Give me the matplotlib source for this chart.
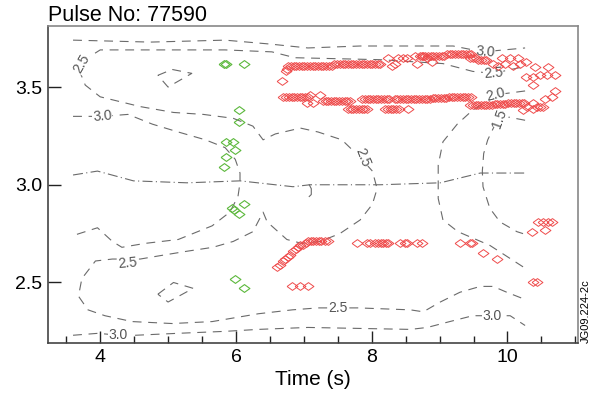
import matplotlib.pyplot as plt
import numpy as np
from matplotlib.path import Path

plt.rcParams['font.family'] = ['Liberation Sans', 'DejaVu Sans']

title = "Pulse No: 77590"
x_label = "Time (s)"
tag = "JG09.224-2c"
time_ticks = [4, 6, 8, 10]
r_ticks = [2.5, 3.0, 3.5]

# contour lines, (time, r) pairs
c30_top = [(3.60, 3.74), (4.74, 3.73), (5.84, 3.74), (6.50, 3.72), (7.06, 3.70),
           (7.83, 3.71), (8.57, 3.71), (9.20, 3.71), (9.64, 3.68), (10.26, 3.70)]
c25_main = [(10.19, 3.60), (9.79, 3.57), (9.49, 3.58), (9.05, 3.62), (8.12, 3.64),
            (6.87, 3.65), (6.53, 3.68), (5.84, 3.69), (4.74, 3.69), (4.00, 3.69),
            (3.82, 3.65), (3.73, 3.62), (3.71, 3.57), (3.78, 3.51), (4.00, 3.45),
            (4.59, 3.40), (5.08, 3.37), (5.52, 3.36), (5.96, 3.34), (6.25, 3.30),
            (6.40, 3.23), (6.58, 3.26), (6.95, 3.29), (7.21, 3.27), (7.56, 3.23),
            (7.83, 3.14), (8.01, 3.07), (8.08, 2.98), (8.01, 2.90), (7.83, 2.82),
            (7.53, 2.75), (7.24, 2.71), (6.97, 2.70), (6.75, 2.72), (6.46, 2.81),
            (6.40, 2.86), (6.25, 2.76), (5.96, 2.71), (5.66, 2.68), (5.28, 2.66),
            (4.93, 2.64), (4.59, 2.62), (4.18, 2.62), (3.93, 2.61), (3.73, 2.52),
            (3.68, 2.43), (3.82, 2.36), (4.07, 2.33), (4.47, 2.30), (5.06, 2.29),
            (5.65, 2.30), (6.33, 2.34), (6.83, 2.36), (7.21, 2.37), (7.80, 2.37),
            (8.57, 2.36), (8.76, 2.35), (9.01, 2.40), (9.30, 2.45), (9.60, 2.48),
            (9.79, 2.48), (9.99, 2.45), (10.21, 2.42)]
c30_left = [(3.60, 3.35), (4.03, 3.35), (4.41, 3.36), (4.77, 3.31), (5.15, 3.27),
            (5.55, 3.23), (5.84, 3.19), (5.99, 3.13), (6.06, 3.06), (6.06, 3.01),
            (6.03, 2.94), (5.91, 2.86), (5.65, 2.79), (5.15, 2.72), (4.66, 2.70),
            (4.32, 2.68), (4.18, 2.71), (3.96, 2.78), (3.60, 2.74)]
c20 = [(10.26, 3.48), (9.82, 3.46), (9.45, 3.37), (9.26, 3.31), (9.05, 3.22),
       (8.98, 3.10), (8.98, 2.93), (9.05, 2.82), (9.27, 2.76), (9.74, 2.69),
       (10.23, 2.58)]
c15 = [(10.26, 3.33), (9.96, 3.35), (9.82, 3.31), (9.71, 3.23), (9.65, 3.16),
       (9.63, 3.07), (9.64, 2.99), (9.74, 2.88), (9.89, 2.81), (10.14, 2.76),
       (10.23, 2.75)]
c30_bot = [(3.60, 2.23), (3.97, 2.24), (4.27, 2.23), (4.52, 2.23), (5.15, 2.24),
           (5.84, 2.25), (6.33, 2.26), (7.06, 2.27), (8.57, 2.26), (8.82, 2.27),
           (9.15, 2.30), (9.49, 2.33), (9.77, 2.33), (10.04, 2.33), (10.26, 2.28)]
loop_up = [(4.85, 3.56), (5.06, 3.59), (5.35, 3.57), (5.00, 3.50), (4.85, 3.56)]
loop_low = [(4.85, 2.44), (5.08, 2.50), (5.37, 2.47), (5.00, 2.40), (4.85, 2.44)]
mid_line = [(3.60, 3.05), (3.96, 3.07), (4.49, 3.02), (5.28, 3.01), (6.06, 3.02),
            (6.84, 2.99), (7.09, 3.00), (8.12, 3.00), (9.01, 3.01), (9.60, 3.06),
            (10.26, 3.06)]
mid_hook = [(7.08, 3.00), (7.11, 2.98), (7.11, 2.95), (7.08, 2.94)]

# contour labels: text, time, r, angle
contour_labels = [("2.5", 3.73, 3.62, 60), ("3.0", 4.03, 3.35, 5),
                  ("2.5", 7.86, 3.14, -68), ("3.0", 9.67, 3.68, -5),
                  ("2.5", 9.79, 3.57, 5), ("2.0", 9.82, 3.46, 15),
                  ("1.5", 9.89, 3.34, 70), ("2.5", 4.41, 2.60, 5),
                  ("2.5", 7.51, 2.37, 0), ("3.0", 4.27, 2.23, 0),
                  ("3.0", 9.77, 2.33, 0)]

green_pts = [(5.83, 3.62), (5.86, 3.62), (6.12, 3.62), (6.05, 3.38), (6.05, 3.32),
             (5.86, 3.22), (5.96, 3.22), (5.99, 3.18), (5.86, 3.14), (5.83, 3.09),
             (5.94, 2.88), (5.97, 2.87), (6.12, 2.90), (6.05, 2.85), (5.99, 2.52),
             (6.12, 2.47)]

red_upper = [
    (6.68, 3.53), (6.74, 3.58), (6.75, 3.59),
    (6.77, 3.61), (6.81, 3.61), (6.85, 3.61), (6.89, 3.61), (6.93, 3.61),
    (6.97, 3.61), (7.01, 3.61), (7.05, 3.61), (7.09, 3.61), (7.13, 3.61),
    (7.17, 3.61), (7.21, 3.61), (7.25, 3.61), (7.29, 3.61), (7.33, 3.61),
    (7.37, 3.61), (7.41, 3.61), (7.45, 3.62), (7.49, 3.62), (7.53, 3.62),
    (7.57, 3.62), (7.61, 3.62), (7.65, 3.62), (7.69, 3.62), (7.73, 3.62),
    (7.77, 3.62), (7.81, 3.62), (7.85, 3.62), (7.89, 3.62), (7.93, 3.62),
    (7.97, 3.62), (8.01, 3.62), (8.05, 3.62), (8.09, 3.62),
    (8.12, 3.62), (8.24, 3.65), (8.30, 3.61), (8.34, 3.62), (8.39, 3.65),
    (8.46, 3.65), (8.52, 3.65), (8.64, 3.66), (8.67, 3.62), (8.74, 3.66),
    (8.82, 3.65), (8.89, 3.63),
    (8.71, 3.66), (8.75, 3.66), (8.79, 3.66), (8.83, 3.66), (8.87, 3.66),
    (8.91, 3.66), (8.95, 3.66), (8.99, 3.66), (9.03, 3.66), (9.07, 3.66),
    (9.11, 3.67), (9.15, 3.67), (9.19, 3.67), (9.23, 3.67), (9.27, 3.67),
    (9.31, 3.67), (9.35, 3.67), (9.39, 3.67), (9.43, 3.67), (9.47, 3.67),
    (9.45, 3.65), (9.49, 3.65), (9.53, 3.65), (9.57, 3.64), (9.61, 3.64),
    (9.65, 3.64), (9.69, 3.64),
    (9.79, 3.62), (9.86, 3.61), (9.92, 3.65), (9.96, 3.62), (10.04, 3.65),
    (10.08, 3.61), (10.16, 3.65), (10.19, 3.62), (10.27, 3.63),
    (10.41, 3.60), (10.60, 3.60), (10.28, 3.55), (10.38, 3.55), (10.48, 3.56),
    (10.58, 3.56), (10.70, 3.56), (10.38, 3.51)]

red_lower = [
    (6.70, 3.45), (6.74, 3.45), (6.78, 3.45), (6.82, 3.45), (6.86, 3.45),
    (6.90, 3.45), (6.94, 3.45), (6.98, 3.45), (7.02, 3.45), (7.06, 3.45),
    (7.09, 3.46), (7.24, 3.46), (7.05, 3.42), (7.14, 3.42),
    (7.28, 3.43), (7.32, 3.43), (7.36, 3.43), (7.40, 3.43), (7.44, 3.43),
    (7.48, 3.43), (7.52, 3.43), (7.56, 3.43), (7.60, 3.43), (7.64, 3.43),
    (7.68, 3.43),
    (7.65, 3.39), (7.69, 3.39), (7.73, 3.39), (7.77, 3.39), (7.81, 3.39),
    (7.85, 3.39), (7.89, 3.39), (7.93, 3.39),
    (7.86, 3.44), (7.90, 3.44), (7.94, 3.44), (7.98, 3.44), (8.02, 3.44),
    (8.06, 3.44), (8.10, 3.44), (8.14, 3.44), (8.18, 3.44), (8.22, 3.44),
    (8.26, 3.44),
    (8.20, 3.39), (8.24, 3.39), (8.28, 3.39), (8.32, 3.39), (8.36, 3.39),
    (8.40, 3.39), (8.54, 3.39),
    (8.34, 3.44), (8.38, 3.44), (8.42, 3.44), (8.46, 3.44), (8.50, 3.44),
    (8.54, 3.44), (8.58, 3.44), (8.62, 3.44), (8.66, 3.44), (8.70, 3.44),
    (8.74, 3.44), (8.78, 3.44), (8.82, 3.44), (8.86, 3.44), (8.90, 3.445),
    (8.94, 3.445), (8.98, 3.445), (9.02, 3.445), (9.06, 3.445), (9.10, 3.445),
    (9.14, 3.45), (9.18, 3.45), (9.22, 3.45), (9.26, 3.45), (9.30, 3.45),
    (9.34, 3.45), (9.38, 3.45), (9.42, 3.45), (9.46, 3.45),
    (9.45, 3.41), (9.49, 3.41), (9.53, 3.41), (9.57, 3.41), (9.61, 3.41),
    (9.65, 3.41), (9.69, 3.41), (9.73, 3.41), (9.77, 3.41), (9.81, 3.415),
    (9.85, 3.415), (9.89, 3.415), (9.93, 3.415), (9.97, 3.415), (10.01, 3.42),
    (10.05, 3.42), (10.09, 3.42), (10.13, 3.42), (10.17, 3.42), (10.21, 3.42),
    (10.25, 3.42),
    (10.29, 3.40), (10.38, 3.42), (10.48, 3.40), (10.55, 3.44), (10.66, 3.45),
    (10.70, 3.48), (10.23, 3.38), (10.38, 3.39), (10.44, 3.40), (10.52, 3.40)]

red_bottom = [
    (6.61, 2.58), (6.65, 2.59), (6.70, 2.61), (6.72, 2.62), (6.77, 2.63),
    (6.80, 2.64), (6.84, 2.66), (6.89, 2.67), (6.92, 2.68), (6.95, 2.69),
    (6.99, 2.69), (7.03, 2.70),
    (7.06, 2.71), (7.10, 2.71), (7.14, 2.71), (7.18, 2.71), (7.22, 2.71),
    (7.26, 2.71), (7.31, 2.71), (7.36, 2.71),
    (7.78, 2.70), (7.93, 2.70), (7.98, 2.70), (8.05, 2.70), (8.09, 2.70),
    (8.13, 2.70), (8.17, 2.70), (8.21, 2.70), (8.24, 2.70), (8.42, 2.70),
    (8.49, 2.70), (8.52, 2.70), (8.67, 2.70), (8.74, 2.70),
    (9.30, 2.70), (9.45, 2.70), (9.48, 2.70), (9.64, 2.65), (9.85, 2.62),
    (10.36, 2.76), (10.45, 2.81), (10.52, 2.81), (10.60, 2.81), (10.66, 2.81),
    (10.55, 2.77), (10.38, 2.50), (10.44, 2.50),
    (6.83, 2.48), (6.95, 2.48), (7.06, 2.48)]

fig = plt.figure(figsize=(5.99, 3.98), dpi=100)
ax = fig.add_axes([0.080, 0.138, 0.885, 0.797])

grey = '#6a6a6a'
dashed = (0, (8, 6))
for line in [c30_top, c25_main, c30_left, c20, c15, c30_bot, loop_up, loop_low]:
    p = np.array(line)
    ax.plot(p[:, 0], p[:, 1], color=grey, lw=0.8, linestyle=dashed, zorder=1)
p = np.array(mid_line)
ax.plot(p[:, 0], p[:, 1], color=grey, lw=0.8, linestyle=(0, (9, 3, 1, 3)), zorder=1)
p = np.array(mid_hook)
ax.plot(p[:, 0], p[:, 1], color=grey, lw=0.8, zorder=1)

for txt, t, r, ang in contour_labels:
    ax.text(t, r, txt, fontsize=10, color='#555555', rotation=ang,
            ha='center', va='center', rotation_mode='anchor', zorder=2,
            bbox=dict(fc='white', ec='none', pad=0.4))

diamond = Path([(-1, 0), (0, 0.72), (1, 0), (0, -0.72), (-1, 0)])
g = np.array(green_pts)
ax.plot(g[:, 0], g[:, 1], linestyle='none', marker=diamond, ms=7.8,
        mfc='none', mec='#5cb83c', mew=0.8, zorder=3)
for grp in [red_upper, red_lower, red_bottom]:
    p = np.array(grp)
    ax.plot(p[:, 0], p[:, 1], linestyle='none', marker=diamond, ms=7.8,
            mfc='none', mec='#ef4b4b', mew=0.7, zorder=3)

ax.set_xlim(3.23, 11.04)
ax.set_ylim(2.19, 3.813)
ax.set_xticks(time_ticks)
ax.set_xticks(np.arange(3.5, 11.01, 0.5), minor=True)
ax.set_yticks(r_ticks)
ax.set_yticklabels([f"{v:.1f}" for v in r_ticks])
ax.tick_params(which='both', direction='in', top=False, right=False,
               labelsize=14, width=1, color='#222222')
ax.tick_params(which='major', length=9, pad=4)
ax.tick_params(which='minor', length=5)
for side in ['left', 'bottom']:
    ax.spines[side].set_color('#444444')
    ax.spines[side].set_linewidth(1.2)
for side in ['top', 'right']:
    ax.spines[side].set_color('#888888')
    ax.spines[side].set_linewidth(1.2)

ax.set_xlabel(x_label, fontsize=15, labelpad=3)
ax.set_title(title, loc='left', fontsize=15.5, pad=2)
fig.text(0.978, 0.138, tag, rotation=90, ha='center', va='bottom', fontsize=8)

fig.savefig('out.png', dpi=100)
